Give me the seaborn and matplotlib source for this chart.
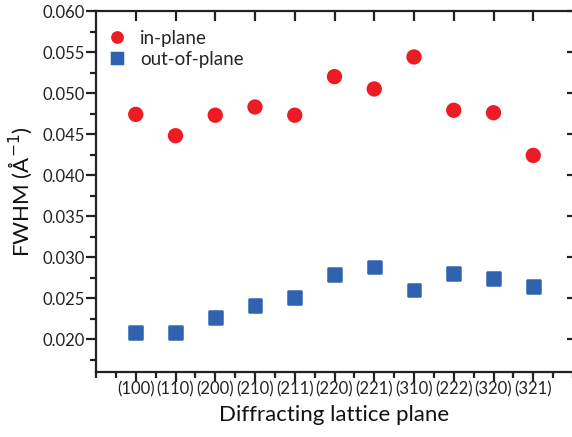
import numpy as np
import pandas as pd
import matplotlib
matplotlib.use("Agg")
import matplotlib.pyplot as plt
from matplotlib.ticker import MultipleLocator, FixedLocator, FormatStrFormatter
import seaborn as sns

planes = ["(100)", "(110)", "(200)", "(210)", "(211)", "(220)",
          "(221)", "(310)", "(222)", "(320)", "(321)"]
in_plane = [0.0474, 0.0448, 0.0473, 0.0483, 0.0473, 0.0520,
            0.0505, 0.0544, 0.0479, 0.0476, 0.0424]
out_of_plane = [0.0208, 0.0208, 0.0226, 0.0241, 0.0251, 0.0279,
                0.0288, 0.0260, 0.0280, 0.0274, 0.0264]

positions = np.arange(1, len(planes) + 1)
df = pd.concat([
    pd.DataFrame({"pos": positions, "fwhm": in_plane, "series": "in-plane"}),
    pd.DataFrame({"pos": positions, "fwhm": out_of_plane, "series": "out-of-plane"}),
])

sns.set_style("ticks")
plt.rcParams["font.family"] = ["Lato", "DejaVu Sans"]

fig = plt.figure(figsize=(5.72, 4.37), dpi=100)
ax = fig.add_axes([96 / 572, 1 - 372 / 437, 477 / 572, 361 / 437])

palette = {"in-plane": "#ED1C24", "out-of-plane": "#2F63AF"}
markers = {"in-plane": "o", "out-of-plane": "s"}
sns.scatterplot(data=df, x="pos", y="fwhm", hue="series", style="series",
                palette=palette, markers=markers, s=85, linewidth=1.8,
                ax=ax, legend=True)
for coll in ax.collections:
    coll.set_edgecolor(coll.get_facecolor())
    coll.set_joinstyle("round")

ax.set_xlim(0, 12)
ax.set_ylim(0.016, 0.060)
ax.xaxis.set_major_locator(FixedLocator(positions))
ax.set_xticklabels(planes)
ax.xaxis.set_minor_locator(MultipleLocator(0.5))
ax.yaxis.set_major_locator(MultipleLocator(0.005))
ax.yaxis.set_minor_locator(MultipleLocator(0.0025))
ax.yaxis.set_major_formatter(FormatStrFormatter("%.3f"))

for s in ["left", "bottom", "top"]:
    ax.spines[s].set_linewidth(1.6)
    ax.spines[s].set_color("#222222")
ax.spines["right"].set_visible(False)

ax.tick_params(axis="both", which="major", direction="out", length=7, width=1.6,
               labelsize=12, colors="#222222", pad=1)
ax.tick_params(axis="x", which="major", pad=0)
ax.tick_params(axis="both", which="minor", direction="out", length=4, width=1.6,
               colors="#222222")
ax.tick_params(axis="x", which="major", top=True)
ax.tick_params(axis="y", which="major", right=True)
ax.tick_params(axis="y", which="minor", right=False)
ax.tick_params(axis="x", which="minor", top=False)
# inward ticks on the top and right edges
for t in ax.xaxis.get_major_ticks():
    t.tick2line.set_marker(3)
    t.tick2line.set_markersize(7)
    t.tick2line.set_markeredgewidth(1.6)
for t in ax.yaxis.get_major_ticks():
    t.tick2line.set_marker(0)
    t.tick2line.set_markersize(4)
    t.tick2line.set_markeredgewidth(1.6)

ax.set_xlabel("Diffracting lattice plane", fontsize=16, labelpad=5, color="#111111")
ax.set_ylabel("FWHM (Å$^{-1}$)", fontsize=16, labelpad=6, color="#111111")

leg = ax.legend(loc="upper left", bbox_to_anchor=(0, 1 - 9.5 / 361), frameon=False,
                fontsize=13.5, handlelength=1.2, handletextpad=0.64,
                borderaxespad=0, labelspacing=0.2, borderpad=0.5)
for h in leg.legend_handles:
    h.set_markersize(11)

fig.savefig("out.png", dpi=100)
